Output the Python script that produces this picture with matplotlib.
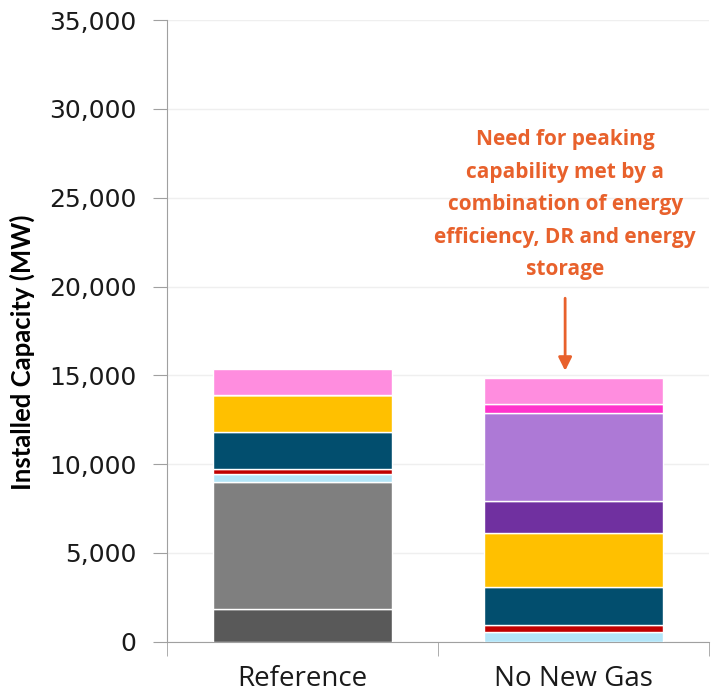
import matplotlib.pyplot as plt
from matplotlib.ticker import FuncFormatter

scenarios = ["Reference", "No New Gas"]

# stacked segments, bottom to top (MW)
segments = [
    ("Coal",          [1860, 0],    "#595959"),
    ("Nuclear",       [7140, 0],    "#7f7f7f"),
    ("Hydro",         [450, 560],   "#b3e5f8"),
    ("Other",         [260, 360],   "#c00000"),
    ("Wind",          [2090, 2160], "#024e6e"),
    ("Solar",         [2100, 3020], "#ffc000"),
    ("Storage",       [0, 1830],    "#7030a0"),
    ("EE",            [0, 4970],    "#ad79d6"),
    ("DR",            [0, 500],     "#ff33cc"),
    ("Existing Peak", [1470, 1460], "#ff8ddf"),
]

plt.rcParams['font.family'] = ['Open Sans', 'DejaVu Sans']

fig = plt.figure(figsize=(7.13, 6.96), dpi=100)
ax = fig.add_axes([0.234, 0.078, 0.76, 0.893])

x = [0, 1]
bottom = [0, 0]
for name, vals, col in segments:
    ax.bar(x, vals, bottom=bottom, width=0.66, color=col, edgecolor='white', linewidth=1, label=name, zorder=3)
    bottom = [b + v for b, v in zip(bottom, vals)]

ax.set_xlim(-0.5, 1.5)
ax.set_ylim(0, 35000)
ax.set_yticks(range(0, 35001, 5000))
ax.yaxis.set_major_formatter(FuncFormatter(lambda v, p: f"{int(v):,}"))
ax.tick_params(axis='y', length=10, color='#a0a0a0', pad=12, labelcolor='#1a1a1a')
for lbl in ax.get_yticklabels():
    lbl.set_family('DejaVu Sans')
    lbl.set_fontsize(18)
ax.set_xticks(x)
ax.set_xticklabels(scenarios, fontsize=20, color='#1a1a1a')
ax.set_xticks([-0.5, 0.5, 1.5], minor=True)
ax.tick_params(axis='x', which='major', length=0, pad=17)
ax.tick_params(axis='x', which='minor', length=10, color='#a0a0a0')
ax.grid(axis='y', color='#efefef', linewidth=1, zorder=0)

for s in ['top', 'right']:
    ax.spines[s].set_visible(False)
ax.spines['left'].set_color('#a0a0a0')
ax.spines['bottom'].set_color('#a0a0a0')

ax.set_ylabel("Installed Capacity (MW)", fontsize=18.5, fontweight='bold', family=['Lato', 'Open Sans'])
ax.yaxis.set_label_coords(-0.2435, 0.465)

orange = '#e8612c'
ax.text(0.97, 24600, "Need for peaking\ncapability met by a\ncombination of energy\nefficiency, DR and energy\nstorage",
        ha='center', va='center', color=orange, fontsize=15, fontweight='bold', linespacing=1.72, zorder=5)
ax.annotate("", xy=(0.97, 15100), xytext=(0.97, 19500),
            arrowprops=dict(arrowstyle='-|>', color=orange, lw=2, mutation_scale=20), zorder=5)

fig.savefig("out.png", dpi=100)
